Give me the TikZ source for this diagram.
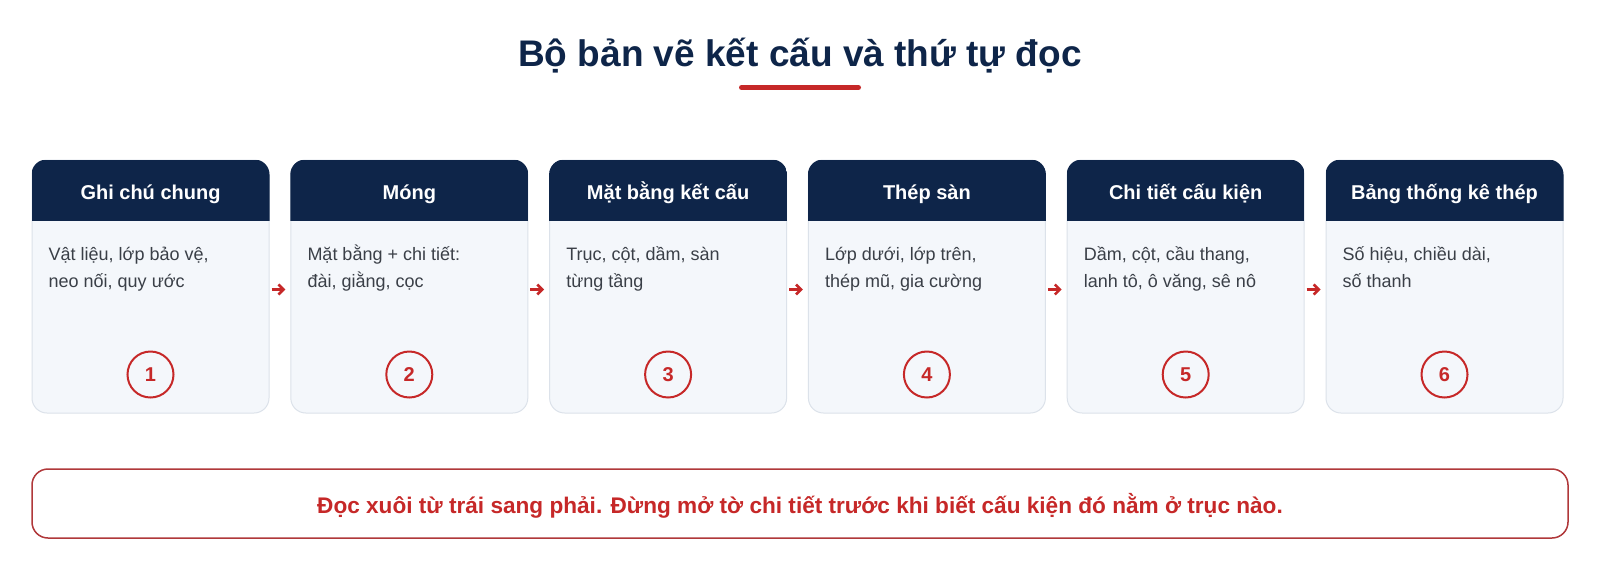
\documentclass[tikz,border=0pt]{standalone}
\usepackage{fontspec}
\setmainfont{Liberation Sans}
\usetikzlibrary{arrows.meta}
\definecolor{navy}{HTML}{0E2549}
\definecolor{cardfill}{HTML}{F4F7FB}
\definecolor{cardline}{HTML}{DCE2EA}
\definecolor{accent}{HTML}{C62828}
\definecolor{bodytext}{HTML}{3A3F47}
\definecolor{noteline}{HTML}{B0383A}
\tikzset{
  cardbox/.style={draw=cardline, line width=1pt, rounded corners=15pt, minimum width=237pt, minimum height=253pt, inner sep=0pt},
  headtext/.style={text=white, font=\bfseries\fontsize{20}{24}\selectfont, anchor=base, inner sep=0pt},
  bodytxt/.style={text=bodytext, font=\fontsize{18}{26.5}\selectfont, anchor=base west, inner sep=0pt},
  numcircle/.style={circle, draw=accent, line width=2pt, minimum size=46pt, inner sep=0pt, text=accent, font=\bfseries\fontsize{20}{24}\selectfont},
  flowarrow/.style={draw=accent, line width=2.6pt, -{Straight Barb[length=5pt,width=10pt,line width=2.6pt]}, shorten <=2pt, shorten >=5pt}
}
\begin{document}
\begin{tikzpicture}[x=1pt,y=-1pt]
\useasboundingbox (0,0) rectangle (1600,560);
\fill[white] (0,0) rectangle (1600,560);
% title
\node[text=navy, font=\bfseries\fontsize{37}{44}\selectfont, anchor=base, inner sep=0pt] (title) at (800,66) {Bộ bản vẽ kết cấu và thứ tự đọc};
\draw[accent, line width=5pt, line cap=round] (741.5,87.5) -- (858.5,87.5);
% cards
\foreach \i/\cx/\head/\la/\lb in {
  1/150.5/{Ghi chú chung}/{Vật liệu, lớp bảo vệ,}/{neo nối, quy ước},
  2/409.3/{Móng}/{Mặt bằng + chi tiết:}/{đài, giằng, cọc},
  3/668.1/{Mặt bằng kết cấu}/{Trục, cột, dầm, sàn}/{từng tầng},
  4/926.9/{Thép sàn}/{Lớp dưới, lớp trên,}/{thép mũ, gia cường},
  5/1185.7/{Chi tiết cấu kiện}/{Dầm, cột, cầu thang,}/{lanh tô, ô văng, sê nô},
  6/1444.5/{Bảng thống kê thép}/{Số hiệu, chiều dài,}/{số thanh}}{
  \node[cardbox, fill=cardfill] (c\i) at (\cx,286.5) {};
  \begin{scope}
    \clip[rounded corners=15pt] (c\i.north west) rectangle (c\i.south east);
    \fill[navy] (c\i.north west) rectangle ([yshift=-61pt]c\i.north east);
  \end{scope}
  \node[headtext] (h\i) at (\cx,199.5) {\head};
  \node[bodytxt] (b\i) at ([xshift=17pt]c\i.west |- 0,260) {\la};
  \node[bodytxt] (d\i) at ([xshift=17pt]c\i.west |- 0,287.5) {\lb};
  \node[numcircle] (n\i) at (\cx,374.5) {\i};
}
\foreach \a/\b in {1/2,2/3,3/4,4/5,5/6}{
  \draw[flowarrow] ([yshift=-3pt]c\a.east) -- ([yshift=-3pt]c\b.west);
}
% note
\node[draw=noteline, line width=1.5pt, rounded corners=16pt, minimum width=1536pt, minimum height=69pt] (note) at (800,503.5) {};
\node[text=accent, font=\bfseries\fontsize{22.6}{26}\selectfont, anchor=base, inner sep=0pt] (notetext) at (800,513) {Đọc xuôi từ trái sang phải. Đừng mở tờ chi tiết trước khi biết cấu kiện đó nằm ở trục nào.};
\end{tikzpicture}
\end{document}
